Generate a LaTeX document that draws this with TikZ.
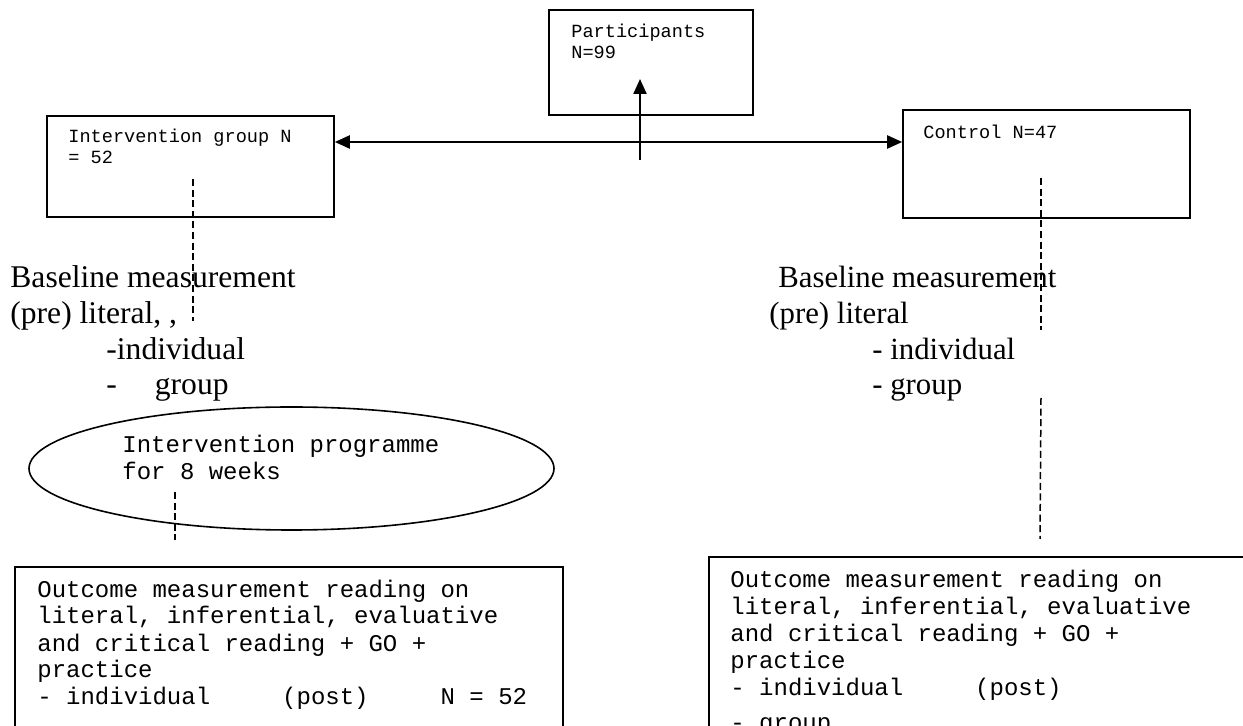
\documentclass[tikz,border=0pt]{standalone}
\usepackage{fontspec}
\setmainfont{Liberation Serif}
\setmonofont{Liberation Mono}
\usetikzlibrary{positioning,shapes.geometric,arrows.meta}

\begin{document}
\begin{tikzpicture}[
			x=0.5pt, y=-0.5pt
			,>={Triangle[length=7.5pt,width=6.5pt]}
			,box/.style={draw, line width=0.8pt, inner sep=0pt}
			,sm/.style={font=\ttfamily\fontsize{9.3}{10.3}\selectfont, align=left, anchor=base west, inner sep=0pt}
			,lg/.style={font=\ttfamily\fontsize{12}{13.5}\selectfont, align=left, anchor=base west, inner sep=0pt}
			,rm/.style={font=\fontsize{15.8}{17.8}\selectfont, align=left, anchor=base west, inner sep=0pt}
			,arr/.style={line width=1.1pt}
			,dsh/.style={line width=0.75pt, dash pattern=on 3.5pt off 1.8pt}
		]
			\useasboundingbox (0,0) rectangle (1243,726);
			\clip (0,0) rectangle (1243,726);

			\node [box, minimum width=102pt, minimum height=52.5pt] (P) at (651,62.5) {};
			\node [box, minimum width=143.5pt, minimum height=50.5pt] (I) at (190.5,166.5) {};
			\node [box, minimum width=143.5pt, minimum height=54pt] (C) at (1046.5,164) {};
			\node [box, ellipse, minimum width=262.5pt, minimum height=61.5pt] (E) at (291.5,468.5) {};
			\node [box, minimum width=274pt, minimum height=96.5pt] (OI) at (289,663.5) {};
			\node [box, minimum width=295.5pt, minimum height=101.5pt] (OC) at (1004.5,658.5) {};

			\node [sm] (Ptxt) at (571,58.6) {Participants\\N=99};
			\node [sm] (Itxt) at (68,163.6) {Intervention group N\\= 52};
			\node [sm] (Ctxt) at (923,139) {Control N=47};
			\node [lg] (Etxt) at (122,480) {Intervention programme\\for 8 weeks};
			\node [lg] (OItxt) at (37,705) {Outcome measurement reading on\\literal, inferential, evaluative\\and critical reading + GO +\\practice\\- individual~~~~~(post)~~~~~N = 52};
			\node [lg] (OCtxt) at (730,731) {Outcome measurement reading on\\literal, inferential, evaluative\\and critical reading + GO +\\practice\\- individual~~~~~(post)\\[4pt]- group};

			\node [rm] (BI) at (10,394.8) {Baseline measurement\\(pre) literal, ,\\\hspace*{48pt}-individual\\\hspace*{48pt}-\hspace{19pt}group};
			\node [rm, font=\fontsize{15.4}{17.8}\selectfont] (BC) at (769,394.8) {\hspace*{4.5pt}Baseline measurement\\(pre) literal\\\hspace*{51.5pt}- individual\\\hspace*{51.5pt}- group};

			\coordinate (mid) at (640,142);
			\coordinate (split) at (640,160);
			\coordinate (up) at (640,79);
			\draw [arr, <->] (I.east |- mid) -- (C.west |- mid);
			\draw [arr, ->] (split) -- (up);

			\coordinate (i1) at (193,179);
			\coordinate (i2) at (193,321);
			\coordinate (e1) at (175,492);
			\coordinate (e2) at (175,540);
			\coordinate (c1) at (1041,178);
			\coordinate (c2) at (1041,330);
			\coordinate (c3) at (1041,398);
			\coordinate (c4) at (1040,539);
			\draw [dsh] (i1) -- (i2);
			\draw [dsh] (e1) -- (e2);
			\draw [dsh] (c1) -- (c2);
			\draw [dsh] (c3) -- (c4);
		\end{tikzpicture}
\end{document}
